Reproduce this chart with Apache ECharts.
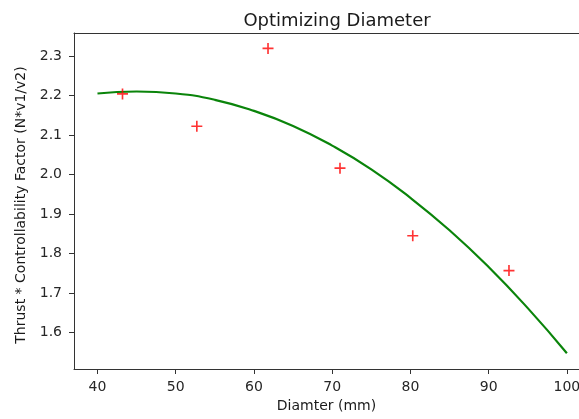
<!DOCTYPE html>
<html>
<head>
<meta charset="utf-8">
<script src="https://cdn.jsdelivr.net/npm/echarts@6/dist/echarts.min.js"></script>
<style>
html, body { margin: 0; padding: 0; background: #fff; }
#chart { width: 579px; height: 419px; }
</style>
</head>
<body>
<div id="chart"></div>
<script>
// measured points
var diam = [43.2, 52.7, 61.8, 71.0, 80.3, 92.6];
var score = [2.204, 2.122, 2.319, 2.016, 1.845, 1.757];

// fitted curve
var fitX = [40, 45, 50, 55, 60, 65, 70, 75, 80, 85, 90, 95, 100];
var fitY = [2.205, 2.210, 2.205, 2.189, 2.161, 2.123, 2.073, 2.013, 1.941, 1.859, 1.766, 1.662, 1.548];

var xTicks = [40, 50, 60, 70, 80, 90, 100];
var yTicks = [1.6, 1.7, 1.8, 1.9, 2.0, 2.1, 2.2, 2.3];

var pts = [];
for (var i = 0; i < diam.length; i++) pts.push([diam[i], score[i]]);
var fit = [];
for (var j = 0; j < fitX.length; j++) fit.push([fitX[j], fitY[j]]);

var font = 'DejaVu Sans';
var ink = '#262626';
var plus = 'path://M4.25,0h1.5v4.25h4.25v1.5h-4.25v4.25h-1.5v-4.25h-4.25v-1.5h4.25z';

var myChart = echarts.init(document.getElementById('chart'), null, {renderer: 'canvas'});
var option = {
    animation: false,
    backgroundColor: '#fff',
    title: {
        text: 'Optimizing Diameter',
        left: 332,
        top: 7,
        textAlign: 'center',
        textStyle: {fontFamily: font, fontSize: 18, fontWeight: 'normal', color: '#1a1a1a'}
    },
    grid: {
        left: 74,
        top: 33,
        right: 0,
        bottom: 50,
        outerBoundsMode: 'none',
        containLabel: false,
        show: false
    },
    xAxis: [
        {
            type: 'value',
            min: 37,
            max: 101.55,
            name: 'Diamter (mm)',
            nameLocation: 'middle',
            nameGap: 30,
            nameTextStyle: {fontFamily: font, fontSize: 14, color: '#1a1a1a'},
            axisLine: {show: true, lineStyle: {color: '#333', width: 1}},
            axisTick: {show: true, length: 5, customValues: xTicks, lineStyle: {color: '#333'}},
            axisLabel: {customValues: xTicks, margin: 11, fontFamily: font, fontSize: 14, color: ink},
            splitLine: {show: false}
        },
        {
            // top spine only
            type: 'value',
            position: 'top',
            min: 37,
            max: 101.55,
            axisLine: {show: true, lineStyle: {color: '#333', width: 1}},
            axisTick: {show: false},
            axisLabel: {show: false},
            splitLine: {show: false}
        }
    ],
    yAxis: {
        type: 'value',
        min: 1.508,
        max: 2.358,
        name: 'Thrust * Controllability Factor (N*v1/v2)',
        nameLocation: 'middle',
        nameGap: 46,
        nameTextStyle: {fontFamily: font, fontSize: 14, color: '#1a1a1a', padding: [0, 0, 0, -8]},
        axisLine: {show: true, lineStyle: {color: '#333', width: 1}},
        axisTick: {show: true, length: 5, customValues: yTicks, lineStyle: {color: '#333'}},
        axisLabel: {
            customValues: yTicks,
            margin: 12,
            fontFamily: font,
            fontSize: 14,
            color: ink,
            formatter: function(v) { return v.toFixed(1); }
        },
        splitLine: {show: false}
    },
    series: [
        {
            type: 'line',
            data: fit,
            smooth: 0.5,
            showSymbol: false,
            lineStyle: {color: '#0a840a', width: 2.2},
            z: 2
        },
        {
            type: 'scatter',
            data: pts,
            symbol: plus,
            symbolSize: 11,
            itemStyle: {color: '#ff0000'},
            z: 3
        }
    ]
};
myChart.setOption(option);
</script>
</body>
</html>
